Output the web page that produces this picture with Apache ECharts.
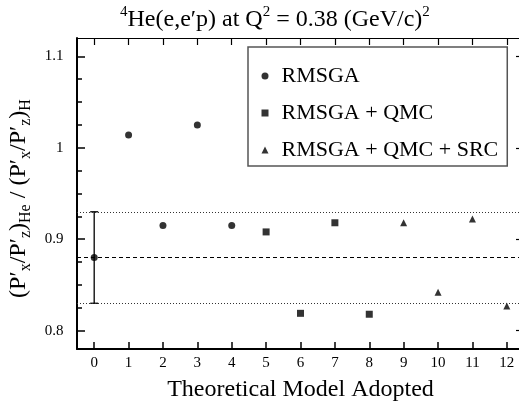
<!DOCTYPE html>
<html><head><meta charset="utf-8">
<script src="https://cdn.jsdelivr.net/npm/echarts@6/dist/echarts.min.js"></script>
<style>html,body{margin:0;padding:0;background:#fff}#c{width:519px;height:406px}</style>
</head><body><div id="c"></div>
<script>
// Data
var expX = [0];
var expY = [0.88];
var expLow = [0.83];
var expHigh = [0.93];
var rmsgaX = [1, 2, 3, 4];
var rmsgaY = [1.014, 0.915, 1.025, 0.915];
var qmcX = [5, 6, 7, 8];
var qmcY = [0.908, 0.819, 0.918, 0.818];
var srcX = [9, 10, 11, 12];
var srcY = [0.918, 0.842, 0.922, 0.827];
var xTicks = [0,1,2,3,4,5,6,7,8,9,10,11,12];
var yTicks = [0.8, 0.9, 1.0, 1.1];
var yMinorTicks = [0.825,0.85,0.875,0.925,0.95,0.975,1.025,1.05,1.075];
var seriesNames = ['RMSGA', 'RMSGA + QMC', 'RMSGA + QMC + SRC'];

var F = 'Liberation Serif';
function pairs(xs, ys){ return xs.map(function(x,i){return [x, ys[i]];}); }

var chart = echarts.init(document.getElementById('c'), null, {renderer:'canvas'});
var X0 = -0.5, X1 = 12.5, Y0 = 0.78, Y1 = 1.12;
var baseX = {type:'value', min:X0, max:X1, splitLine:{show:false}};
var baseY = {type:'value', min:Y0, max:Y1, splitLine:{show:false}};

chart.setOption({
  backgroundColor:'#fff',
  animation:false,
  title:{
    left:120, top:5, padding:0,
    text:'{s|4}{m|He(e,e′p) at Q}{s|2}{m| = 0.38 (GeV/c)}{s|2}',
    textStyle:{
      fontFamily:F, color:'#000', fontWeight:'normal',
      rich:{
        m:{fontFamily:F, fontSize:24, lineHeight:30, color:'#000', verticalAlign:'middle'},
        s:{fontFamily:F, fontSize:15, lineHeight:14, color:'#000', verticalAlign:'top'}
      }
    }
  },
  legend:{
    orient:'vertical', left:248, top:47,
    padding:[18, 9, 5, 13.5],
    itemGap:15, itemWidth:7, itemHeight:7,
    backgroundColor:'#fff', borderColor:'#555', borderWidth:1.5, borderRadius:0,
    data:[{name:seriesNames[0], icon:'circle'},{name:seriesNames[1], icon:'rect'},{name:seriesNames[2], icon:'triangle'}],
    formatter:function(n){ return '{g|}{t|' + n + '}'; },
    textStyle:{fontFamily:F, fontSize:22, color:'#000',
      rich:{g:{width:8}, t:{fontFamily:F, fontSize:22, lineHeight:24, color:'#000'}}},
    selectedMode:false
  },
  grid:{left:77, right:-5, top:38, bottom:57, outerBoundsMode:'none', containLabel:false},
  xAxis:[
    Object.assign({}, baseX, {
      position:'bottom',
      name:'Theoretical Model Adopted', nameLocation:'middle', nameGap:29,
      nameTextStyle:{fontFamily:F, fontSize:24, color:'#000', lineHeight:24},
      axisLine:{show:true, onZero:false, lineStyle:{color:'#000', width:2}},
      axisTick:{show:true, inside:true, length:7, customValues:xTicks, lineStyle:{color:'#000', width:1.5}},
      axisLabel:{show:true, margin:7, customValues:xTicks, fontFamily:F, fontSize:15, color:'#000'}
    }),
    Object.assign({}, baseX, {
      position:'top',
      axisLine:{show:true, onZero:false, lineStyle:{color:'#000', width:1.2}},
      axisTick:{show:true, inside:true, length:7, customValues:xTicks, lineStyle:{color:'#000', width:1.2}},
      axisLabel:{show:false}
    })
  ],
  yAxis:[
    Object.assign({}, baseY, {
      position:'left',
      name:'{m|(P′}{b|x}{m|/P′}{b|z}{m|)}{b|He}{m| / (P′}{b|x}{m|/P′}{b|z}{m|)}{b|H}',
      nameLocation:'middle', nameGap:37, nameRotate:90,
      nameTextStyle:{fontFamily:F, color:'#000', padding:[0, 10, 0, 0],
        rich:{
          m:{fontFamily:F, fontSize:24, lineHeight:30, color:'#000', verticalAlign:'middle'},
          b:{fontFamily:F, fontSize:16, lineHeight:10, color:'#000', verticalAlign:'bottom'}
        }},
      axisLine:{show:true, onZero:false, lineStyle:{color:'#000', width:2}},
      axisTick:{show:true, inside:true, length:8, customValues:yTicks, lineStyle:{color:'#000', width:1.5}},
      axisLabel:{show:true, margin:13.5, customValues:yTicks, fontFamily:F, fontSize:15, color:'#000',
        formatter:function(v){ return String(Math.round(v*10)/10); }}
    }),
    Object.assign({}, baseY, {
      position:'right',
      axisLine:{show:true, onZero:false, lineStyle:{color:'#000', width:1.2}},
      axisTick:{show:true, inside:true, length:8, customValues:yTicks, lineStyle:{color:'#000', width:1.2}},
      axisLabel:{show:false}
    }),
    Object.assign({}, baseY, {
      position:'left', offset:0,
      axisLine:{show:true, onZero:false, lineStyle:{color:'rgba(0,0,0,0)', width:0}},
      axisTick:{show:true, inside:true, length:5, customValues:yMinorTicks, lineStyle:{color:'#000', width:1.5}},
      axisLabel:{show:false}
    })
  ],
  series:[
    {
      type:'scatter', name:'exp', xAxisIndex:0, yAxisIndex:0,
      data:pairs(expX, expY), symbol:'circle', symbolSize:7,
      itemStyle:{color:'#000'}, z:5,
      markLine:{
        silent:true, symbol:['none','none'], label:{show:false},
        data:[
          {yAxis:expY[0], lineStyle:{type:[4,3], color:'#000', width:1}},
          {yAxis:expLow[0], lineStyle:{type:[1,2], color:'#333', width:1}},
          {yAxis:expHigh[0], lineStyle:{type:[1,2], color:'#333', width:1}}
        ]
      }
    },
    {
      type:'custom', name:'errbar', xAxisIndex:0, yAxisIndex:0,
      data:expX.map(function(x,i){return [x, expLow[i], expHigh[i]];}),
      encode:{x:0, y:[1,2]},
      renderItem:function(params, api){
        var lo = api.coord([api.value(0), api.value(1)]);
        var hi = api.coord([api.value(0), api.value(2)]);
        var w = 4;
        var st = {stroke:'#000', lineWidth:1.3};
        return {type:'group', children:[
          {type:'line', shape:{x1:lo[0], y1:lo[1], x2:hi[0], y2:hi[1]}, style:st},
          {type:'line', shape:{x1:lo[0]-w, y1:lo[1], x2:lo[0]+w, y2:lo[1]}, style:st},
          {type:'line', shape:{x1:hi[0]-w, y1:hi[1], x2:hi[0]+w, y2:hi[1]}, style:st}
        ]};
      }, z:4
    },
    {type:'scatter', name:seriesNames[0], data:pairs(rmsgaX, rmsgaY), symbol:'circle', symbolSize:7, itemStyle:{color:'#000'}},
    {type:'scatter', name:seriesNames[1], data:pairs(qmcX, qmcY), symbol:'rect', symbolSize:7, itemStyle:{color:'#000'}},
    {type:'scatter', name:seriesNames[2], data:pairs(srcX, srcY), symbol:'triangle', symbolSize:7, itemStyle:{color:'#000'}}
  ]
});
</script></body></html>
